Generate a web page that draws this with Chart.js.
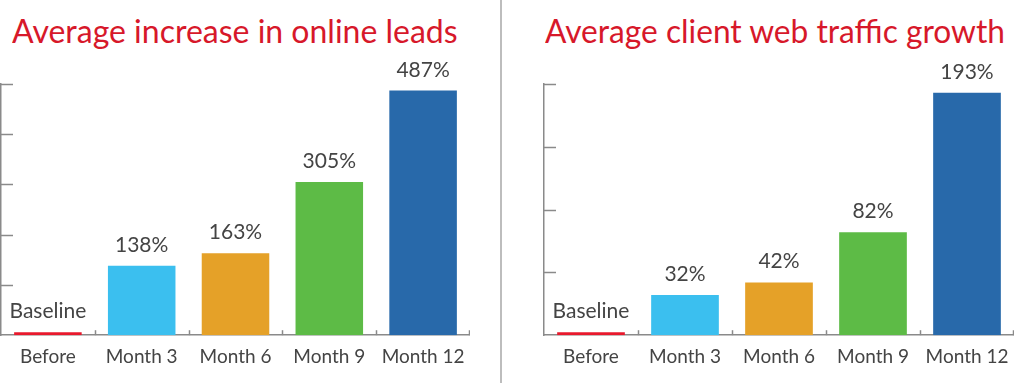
<!DOCTYPE html>
<html>
<head>
<meta charset="utf-8">
<script src="https://cdn.jsdelivr.net/npm/chart.js@4"></script>
<style>
  body { margin: 0; background: #fff; width: 1014px; height: 383px; overflow: hidden; position: relative; font-family: Lato, sans-serif; }
  .title { position: absolute; top: 14px; font-size: 33px; line-height: 1; color: #d7182a; white-space: nowrap; transform-origin: left top; }
  .box { position: absolute; top: 0; height: 383px; }
  #divider { position: absolute; left: 500px; top: 0; width: 2px; height: 383px; background: #bdbdbd; }
</style>
</head>
<body>
<div class="title" id="t1" style="left:12px">Average increase in online leads</div>
<div class="title" id="t2" style="left:545px">Average client web traffic growth</div>
<div id="divider"></div>
<div class="box" style="left:0;width:470px"><canvas id="chart1"></canvas></div>
<div class="box" style="left:520px;width:494px"><canvas id="chart2"></canvas></div>
<script>
const categories = ['Before', 'Month 3', 'Month 6', 'Month 9', 'Month 12'];
const barColors = ['#e8192c', '#3bbfef', '#e5a128', '#5dbb46', '#2869aa'];

const leadsValues = [6, 138, 163, 305, 487];
const leadsLabels = ['Baseline', '138%', '163%', '305%', '487%'];
const leadsTicks = [0, 100, 200, 300, 400, 500];

const trafficValues = [2.4, 32, 42, 82, 193];
const trafficLabels = ['Baseline', '32%', '42%', '82%', '193%'];
const trafficTicks = [0, 50, 100, 150, 200];

// squeeze titles to the width they have in the picture
function fitTitle(id, width) {
  const el = document.getElementById(id);
  el.style.transform = 'scaleX(' + (width / el.offsetWidth) + ')';
}
fitTitle('t1', 446);
fitTitle('t2', 460);

Chart.defaults.font.family = 'Lato';
Chart.defaults.animation = false;

const axisColor = '#8a8a8a';

const decorations = {
  id: 'decorations',
  afterDatasetsDraw(chart, args, opts) {
    const ctx = chart.ctx;
    const area = chart.chartArea;
    const x = chart.scales.x;
    const y = chart.scales.y;
    const n = categories.length;
    const step = (area.right - area.left) / n;
    ctx.save();
    ctx.strokeStyle = axisColor;
    ctx.lineWidth = 1.5;
    // inward ticks on the value axis
    y.ticks.forEach(t => {
      if (t.value === 0) return;
      const py = Math.round(y.getPixelForValue(t.value)) + 0.5;
      ctx.beginPath();
      ctx.moveTo(area.left, py);
      ctx.lineTo(area.left + 12, py);
      ctx.stroke();
    });
    // small upward ticks between categories
    for (let i = 1; i <= n; i++) {
      const px = Math.round(x.getPixelForValue(i - 1) + step / 2) - (i === n ? 1 : 0);
      ctx.beginPath();
      ctx.moveTo(px + 0.5, area.bottom);
      ctx.lineTo(px + 0.5, area.bottom - 5);
      ctx.stroke();
    }
    // value labels above the bars
    const meta = chart.getDatasetMeta(0);
    ctx.fillStyle = '#444';
    ctx.font = '21px Lato';
    ctx.textAlign = 'center';
    ctx.textBaseline = 'alphabetic';
    meta.data.forEach((bar, i) => {
      ctx.fillText(opts.labels[i], bar.x, bar.y - 14);
    });
    ctx.restore();
  }
};

function makeChart(id, values, labels, ticks, padLeft) {
  new Chart(document.getElementById(id), {
    type: 'bar',
    data: {
      labels: categories,
      datasets: [{
        data: values,
        backgroundColor: barColors,
        categoryPercentage: 1,
        barPercentage: 0.72
      }]
    },
    options: {
      responsive: true,
      maintainAspectRatio: false,
      layout: { padding: { top: 84, left: padLeft, right: 0, bottom: 5 } },
      plugins: {
        legend: { display: false },
        tooltip: { enabled: false },
        decorations: { labels: labels }
      },
      scales: {
        x: {
          afterFit: s => { s.paddingLeft = 0; s.paddingRight = 0; },
          grid: { display: false, drawTicks: false },
          border: { display: true, color: axisColor, width: 1.5 },
          ticks: { color: '#444', font: { size: 19 }, padding: 10, maxRotation: 0 }
        },
        y: {
          min: ticks[0],
          max: ticks[ticks.length - 1],
          afterBuildTicks: axis => { axis.ticks = ticks.map(v => ({ value: v })); },
          grid: { display: false, drawTicks: false },
          border: { display: true, color: axisColor, width: 1.5 },
          ticks: { display: false }
        }
      }
    },
    plugins: [decorations]
  });
}

makeChart('chart1', leadsValues, leadsLabels, leadsTicks, 1);
makeChart('chart2', trafficValues, trafficLabels, trafficTicks, 24);
</script>
</body>
</html>
